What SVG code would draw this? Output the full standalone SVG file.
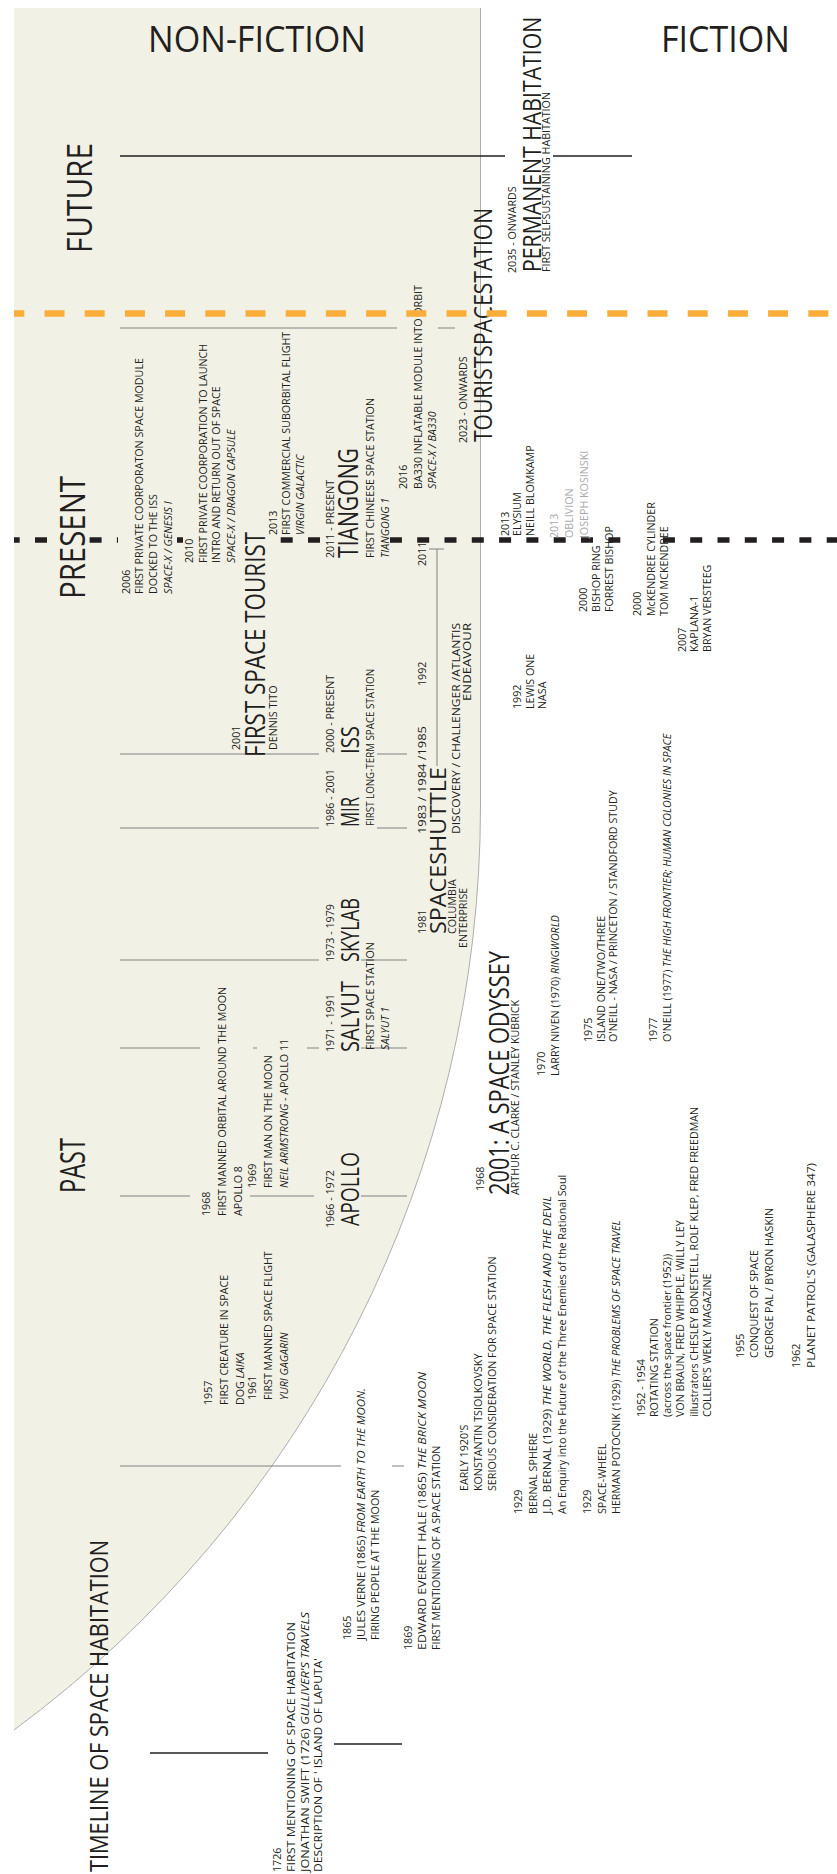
<svg xmlns="http://www.w3.org/2000/svg" width="837" height="1874" viewBox="0 0 837 1874">
<style>
text{font-family:"Open Sans","Liberation Sans",sans-serif;fill:#231f20;font-size:10.7px}
.i{font-style:italic}
.gr{fill:#a7a9ac}
.h1{font-size:36px}
.h2{font-size:34px}
.b{font-size:26px}
.bb{font-size:28px}
.tl{stroke:#808080;stroke-width:1;fill:none}
.bl{stroke:#231f20;stroke-width:1.3;fill:none}
</style>
<rect width="837" height="1874" fill="#ffffff"/>
<path d="M14,8 H480.5 V806 A1148.5,1148.5 0 0 1 14,1730 Z" fill="#f2f1e6"/>
<path d="M480.5,8 V806 A1148.5,1148.5 0 0 1 14,1730" fill="none" stroke="#9a9a9a" stroke-width="0.8"/>

<g id="connectors">
  <path class="bl" d="M120,156 H505 M553,156 H632"/>
  <path class="tl" d="M120,328 H397 M438,328 H455"/>
  <path class="tl" d="M120,754 H319 M377,754 H407"/>
  <path class="tl" d="M120,828 H319 M377,828 H407"/>
  <path class="tl" d="M120,960 H319 M361,960 H407"/>
  <path class="tl" d="M120,1048 H200 M253,1048 H257 M307,1048 H319 M361,1048 H407"/>
  <path class="tl" d="M120,1196 H190 M250,1196 H314 M361,1196 H407"/>
  <path class="tl" d="M120,1466 H341 M392,1466 H404" stroke="#666"/>
  <path class="bl" d="M150,1753 H268" stroke-width="1"/>
  <path class="bl" d="M334,1744 H402" stroke-width="1"/>
  <path class="tl" d="M437,549 V766 M429,549 H444" stroke="#555"/>
  <line id="present-line" x1="14" y1="540" x2="837" y2="540" stroke="#231f20" stroke-width="5.5" stroke-dasharray="12 15.3" stroke-dashoffset="6.3"/>
  <g id="occluders">
    <rect x="55" y="534" width="34" height="12" fill="#f2f1e6"/>
    <rect x="118" y="534" width="59" height="12" fill="#f2f1e6"/>
    <rect x="183" y="534" width="97" height="12" fill="#f2f1e6"/>
    <rect x="322" y="534" width="68" height="12" fill="#f2f1e6"/>
    <rect x="628" y="534" width="22" height="12" fill="#ffffff"/>
  </g>
</g>

<g id="hdr-nonfiction"><text x="148" y="52" class="h1" textLength="218" lengthAdjust="spacingAndGlyphs">NON-FICTION</text></g>
<g id="hdr-fiction"><text x="661" y="52" class="h1" textLength="129" lengthAdjust="spacingAndGlyphs">FICTION</text></g>

<g id="future" transform="rotate(-90)"><text x="-253" y="92" class="h2" textLength="110" lengthAdjust="spacingAndGlyphs">FUTURE</text></g>
<g id="present" transform="rotate(-90)"><text x="-599" y="85" class="h2" textLength="123" lengthAdjust="spacingAndGlyphs">PRESENT</text></g>
<g id="past" transform="rotate(-90)"><text x="-1193" y="85" class="h2" textLength="55" lengthAdjust="spacingAndGlyphs">PAST</text></g>
<g id="title" transform="rotate(-90)"><text x="-1872" y="108" style="font-size:25px" textLength="332" lengthAdjust="spacingAndGlyphs">TIMELINE OF SPACE HABITATION</text></g>

<g id="n2006" transform="rotate(-90)">
  <text x="-594" y="130">2006</text>
  <text x="-594" y="143">FIRST PRIVATE COORPORATON SPACE MODULE</text>
  <text x="-594" y="157">DOCKED TO THE ISS</text>
  <text x="-594" y="172" class="i">SPACE-X / GENESIS I</text>
</g>
<g id="n2010" transform="rotate(-90)">
  <text x="-563" y="193">2010</text>
  <text x="-563" y="207">FIRST PRIVATE COORPORATION TO LAUNCH</text>
  <text x="-563" y="220">INTRO AND RETURN OUT OF SPACE</text>
  <text x="-563" y="235" class="i">SPACE-X / DRAGON CAPSULE</text>
</g>
<g id="n2013" transform="rotate(-90)">
  <text x="-535" y="277">2013</text>
  <text x="-535" y="290">FIRST COMMERCIAL SUBORBITAL FLIGHT</text>
  <text x="-535" y="304" class="i">VIRGIN GALACTIC</text>
</g>
<g id="tiangong" transform="rotate(-90)">
  <text x="-558" y="334">2011 - PRESENT</text>
  <text x="-558" y="358" class="bb" textLength="110" lengthAdjust="spacingAndGlyphs">TIANGONG</text>
  <text x="-558" y="374">FIRST CHINEESE SPACE STATION</text>
  <text x="-558" y="389" class="i">TIANGONG 1</text>
</g>
<g id="n2016" transform="rotate(-90)">
  <text x="-489" y="407">2016</text>
  <text x="-489" y="422">BA330 INFLATABLE MODULE INTO ORBIT</text>
  <text x="-489" y="436" class="i">SPACE-X / BA330</text>
</g>
<g id="tourist" transform="rotate(-90)">
  <text x="-443" y="467">2023 - ONWARDS</text>
  <text x="-442" y="492" style="font-size:25px" textLength="234" lengthAdjust="spacingAndGlyphs">TOURISTSPACESTATION</text>
</g>
<g id="permanent" transform="rotate(-90)">
  <text x="-273" y="516">2035 - ONWARDS</text>
  <text transform="scale(0.85,1)" x="-320" y="541" style="font-size:25px">PERMANENT HABITATION</text>
  <text x="-272" y="550" style="font-size:10.2px" textLength="180" lengthAdjust="spacingAndGlyphs">FIRST SELFSUSTAINING HABITATION</text>
</g>
<g id="n2001" transform="rotate(-90)">
  <text x="-750" y="240">2001</text>
  <text x="-757" y="265" class="bb" textLength="225" lengthAdjust="spacingAndGlyphs">FIRST SPACE TOURIST</text>
  <text x="-750" y="277">DENNIS TITO</text>
</g>
<g id="iss" transform="rotate(-90)">
  <text x="-753" y="334">2000 - PRESENT</text>
  <text x="-754" y="359" class="b" textLength="28" lengthAdjust="spacingAndGlyphs">ISS</text>
</g>
<g id="mir" transform="rotate(-90)">
  <text x="-827" y="334">1986 - 2001</text>
  <text x="-827" y="359" class="b" textLength="30" lengthAdjust="spacingAndGlyphs">MIR</text>
  <text x="-826" y="374" textLength="157" lengthAdjust="spacingAndGlyphs">FIRST LONG-TERM SPACE STATION</text>
</g>
<g id="shuttle" transform="rotate(-90)">
  <text x="-934" y="426">1981</text>
  <text x="-934" y="446" style="font-size:21px" textLength="167" lengthAdjust="spacingAndGlyphs">SPACESHUTTLE</text>
  <text x="-934" y="456">COLUMBIA</text>
  <text x="-834" y="426" textLength="108" lengthAdjust="spacingAndGlyphs">1983 / 1984 /1985</text>
  <text x="-834" y="460" textLength="211" lengthAdjust="spacingAndGlyphs">DISCOVERY / CHALLENGER /ATLANTIS</text>
  <text x="-623" y="471" text-anchor="end" textLength="78" lengthAdjust="spacingAndGlyphs">ENDEAVOUR</text>
  <text x="-686" y="426">1992</text>
  <text x="-566" y="426">2011</text>
  <text x="-948" y="467">ENTERPRISE</text>
</g>
<g id="skylab" transform="rotate(-90)">
  <text x="-962" y="334">1973 - 1979</text>
  <text x="-962" y="359" class="b" textLength="64" lengthAdjust="spacingAndGlyphs">SKYLAB</text>
</g>
<g id="salyut" transform="rotate(-90)">
  <text x="-1052" y="334">1971 - 1991</text>
  <text x="-1052" y="359" class="b" textLength="71" lengthAdjust="spacingAndGlyphs">SALYUT</text>
  <text x="-1050" y="374">FIRST SPACE STATION</text>
  <text x="-1050" y="389" class="i">SALYUT 1</text>
</g>
<g id="apollo" transform="rotate(-90)">
  <text x="-1228" y="334">1966 - 1972</text>
  <text x="-1226" y="359" class="b" textLength="74" lengthAdjust="spacingAndGlyphs">APOLLO</text>
</g>
<g id="n1968" transform="rotate(-90)">
  <text x="-1216" y="210">1968</text>
  <text x="-1216" y="226">FIRST MANNED ORBITAL AROUND THE MOON</text>
  <text x="-1216" y="242">APOLLO 8</text>
</g>
<g id="n1969" transform="rotate(-90)">
  <text x="-1188" y="256">1969</text>
  <text x="-1188" y="272">FIRST MAN ON THE MOON</text>
  <text x="-1188" y="288"><tspan class="i">NEIL ARMSTRONG</tspan> - APOLLO 11</text>
</g>
<g id="n1957" transform="rotate(-90)">
  <text x="-1405" y="212">1957</text>
  <text x="-1405" y="228">FIRST CREATURE IN SPACE</text>
  <text x="-1405" y="244">DOG <tspan class="i">LAIKA</tspan></text>
</g>
<g id="n1961" transform="rotate(-90)">
  <text x="-1400" y="256">1961</text>
  <text x="-1400" y="272">FIRST MANNED SPACE FLIGHT</text>
  <text x="-1400" y="288" class="i">YURI GAGARIN</text>
</g>

<g id="elysium" transform="rotate(-90)">
  <text x="-536" y="509">2013</text>
  <text x="-536" y="521">ELYSIUM</text>
  <text x="-536" y="534">NEILL BLOMKAMP</text>
</g>
<g id="oblivion" transform="rotate(-90)">
  <text x="-538" y="558" class="gr">2013</text>
  <text x="-538" y="573" class="gr">OBLIVION</text>
  <text x="-538" y="588" class="gr">JOSEPH KOSINSKI</text>
</g>
<g id="lewis" transform="rotate(-90)">
  <text x="-709" y="521">1992</text>
  <text x="-709" y="534">LEWIS ONE</text>
  <text x="-709" y="546">NASA</text>
</g>
<g id="bishop" transform="rotate(-90)">
  <text x="-612" y="587">2000</text>
  <text x="-612" y="600">BISHOP RING</text>
  <text x="-612" y="613">FORREST BISHOP</text>
</g>
<g id="mckendree" transform="rotate(-90)">
  <text x="-616" y="641">2000</text>
  <text x="-616" y="655">McKENDREE CYLINDER</text>
  <text x="-616" y="668">TOM MCKENDREE</text>
</g>
<g id="kaplana" transform="rotate(-90)">
  <text x="-652" y="686">2007</text>
  <text x="-652" y="698">KAPLANA-1</text>
  <text x="-652" y="711">BRYAN VERSTEEG</text>
</g>
<g id="odyssey" transform="rotate(-90)">
  <text x="-1191" y="484">1968</text>
  <text x="-1195" y="509" class="bb" textLength="244" lengthAdjust="spacingAndGlyphs">2001: A SPACE ODYSSEY</text>
  <text x="-1195" y="519">ARTHUR C. CLARKE / STANLEY KUBRICK</text>
</g>
<g id="ringworld" transform="rotate(-90)">
  <text x="-1076" y="545">1970</text>
  <text x="-1076" y="559">LARRY NIVEN (1970) <tspan class="i">RINGWORLD</tspan></text>
</g>
<g id="island" transform="rotate(-90)">
  <text x="-1042" y="592">1975</text>
  <text x="-1042" y="605">ISLAND ONE/TWO/THREE</text>
  <text x="-1042" y="617">O'NEILL - NASA / PRINCETON / STANDFORD STUDY</text>
</g>
<g id="frontier" transform="rotate(-90)">
  <text x="-1042" y="657">1977</text>
  <text x="-1042" y="671">O'NEILL (1977) <tspan class="i">THE HIGH FRONTIER; HUMAN COLONIES IN SPACE</tspan></text>
</g>
<g id="bernal" transform="rotate(-90)">
  <text x="-1514" y="522">1929</text>
  <text x="-1514" y="537">BERNAL SPHERE</text>
  <text x="-1514" y="551" textLength="318" lengthAdjust="spacingAndGlyphs">J.D. BERNAL (1929) <tspan class="i">THE WORLD, THE FLESH AND THE DEVIL</tspan></text>
  <text x="-1514" y="566">An Enquiry into the Future of the Three Enemies of the Rational Soul</text>
</g>
<g id="spacewheel" transform="rotate(-90)">
  <text x="-1514" y="591">1929</text>
  <text x="-1514" y="606">SPACE-WHEEL</text>
  <text x="-1514" y="620">HERMAN POTOCNIK (1929) <tspan class="i">THE PROBLEMS OF SPACE TRAVEL</tspan></text>
</g>
<g id="rotating" transform="rotate(-90)">
  <text x="-1417" y="645">1952 - 1954</text>
  <text x="-1417" y="658">ROTATING STATION</text>
  <text x="-1417" y="671">(across the space frontier (1952))</text>
  <text x="-1417" y="684">VON BRAUN, FRED WHIPPLE, WILLY LEY</text>
  <text x="-1417" y="698">illustrators CHESLEY BONESTELL,  ROLF KLEP, FRED FREEDMAN</text>
  <text x="-1417" y="711">COLLIER'S WEKLY MAGAZINE</text>
</g>
<g id="conquest" transform="rotate(-90)">
  <text x="-1358" y="744">1955</text>
  <text x="-1358" y="758">CONQUEST OF SPACE</text>
  <text x="-1358" y="773">GEORGE PAL / BYRON HASKIN</text>
</g>
<g id="patrol" transform="rotate(-90)">
  <text x="-1368" y="800">1962</text>
  <text x="-1368" y="815" textLength="205" lengthAdjust="spacingAndGlyphs">PLANET PATROL'S (GALASPHERE 347)</text>
</g>
<g id="tsiolkovsky" transform="rotate(-90)">
  <text x="-1491" y="468">EARLY 1920'S</text>
  <text x="-1491" y="482">KONSTANTIN TSIOLKOVSKY</text>
  <text x="-1491" y="496">SERIOUS CONSIDERATION FOR SPACE STATION</text>
</g>
<g id="n1869" transform="rotate(-90)">
  <text x="-1650" y="412">1869</text>
  <text x="-1650" y="426" textLength="278" lengthAdjust="spacingAndGlyphs">EDWARD EVERETT HALE (1865) <tspan class="i">THE BRICK MOON</tspan></text>
  <text x="-1650" y="440">FIRST MENTIONING OF A SPACE STATION</text>
</g>
<g id="n1865" transform="rotate(-90)">
  <text x="-1640" y="351">1865</text>
  <text x="-1640" y="365" textLength="252" lengthAdjust="spacingAndGlyphs">JULES VERNE (1865) <tspan class="i">FROM EARTH TO THE MOON.</tspan></text>
  <text x="-1640" y="379">FIRING PEOPLE AT THE MOON</text>
</g>
<g id="n1726" transform="rotate(-90)">
  <text x="-1872" y="281">1726</text>
  <text x="-1872" y="295" textLength="250" lengthAdjust="spacingAndGlyphs">FIRST MENTIONING OF SPACE HABITATION</text>
  <text x="-1872" y="309" textLength="260" lengthAdjust="spacingAndGlyphs">JONATHAN SWIFT (1726) <tspan class="i">GULLIVER'S TRAVELS</tspan></text>
  <text x="-1872" y="322" textLength="214" lengthAdjust="spacingAndGlyphs">DESCRIPTION OF ' ISLAND OF LAPUTA'</text>
</g>

<g id="future-line">
  <line x1="14" y1="313.5" x2="837" y2="313.5" stroke="#fbad3a" stroke-width="6.5" stroke-dasharray="20 20.2" stroke-dashoffset="9.7"/>
</g>
</svg>
